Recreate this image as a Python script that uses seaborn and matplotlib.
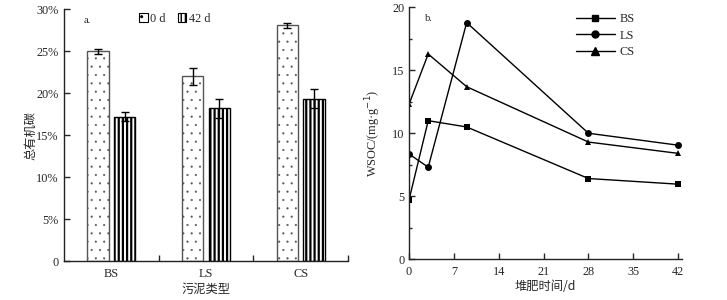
import numpy as np
import pandas as pd
import matplotlib
matplotlib.use("Agg")
import matplotlib.pyplot as plt
import seaborn as sns
from matplotlib.ticker import MultipleLocator, FixedLocator, FuncFormatter
from matplotlib.patches import Patch
from matplotlib.lines import Line2D

sns.set_style("ticks")
plt.rcParams['font.family'] = ['Liberation Serif', 'Noto Sans CJK SC']
plt.rcParams['axes.unicode_minus'] = False

# ---- data panel a ----
sludge_types = ["BS", "LS", "CS"]
time_labels = ["0 d", "42 d"]
toc_0d = [25.0, 22.0, 28.1]
toc_0d_err = [0.3, 1.0, 0.3]
toc_42d = [17.2, 18.2, 19.35]
toc_42d_err = [0.5, 1.1, 1.1]

# ---- data panel b ----
days = [0, 3, 9, 28, 42]
wsoc_bs = [4.7, 11.0, 10.5, 6.4, 5.95]
wsoc_ls = [8.35, 7.3, 18.8, 10.0, 9.05]
wsoc_cs = [12.3, 16.3, 13.7, 9.3, 8.4]

CJK = ['Noto Sans CJK SC', 'Liberation Serif']
FS = 8.8

fig = plt.figure(figsize=(7.27, 3.0), dpi=100)
axa = fig.add_axes([64/727, 1-261/300, 284/727, (261-9.3)/300])
axb = fig.add_axes([409/727, 1-259/300, 273/727, (259-7.5)/300])

# ---------------- panel a ----------------
dfa = pd.DataFrame({
    "type": sludge_types * 2,
    "time": [time_labels[0]] * 3 + [time_labels[1]] * 3,
    "toc": toc_0d + toc_42d,
})
sns.barplot(data=dfa, x="type", y="toc", hue="time", order=sludge_types,
            hue_order=time_labels, errorbar=None, width=0.56, gap=0.2,
            palette=["white", "white"], ax=axa, legend=False, linewidth=1.0)

hatches = ['..', '||||']
edgecols = ['#555555', 'black']
errs = [toc_0d_err, toc_42d_err]
vals = [toc_0d, toc_42d]
bar_conts = list(axa.containers)[:2]
for i, cont in enumerate(bar_conts):
    xs = []
    for p in cont:
        p.set_hatch(hatches[i])
        p.set_edgecolor(edgecols[i])
        p.set_linewidth(1.0)
        if hasattr(p, "set_hatch_linewidth"):
            p.set_hatch_linewidth(0.3 if i == 0 else 1.6)
        xs.append(p.get_x() + p.get_width() / 2)
    axa.errorbar(xs, vals[i], yerr=errs[i], fmt='none', ecolor='black',
                 elinewidth=1.0, capsize=3, capthick=1.0, zorder=5)

axa.set_xlim(-0.5, 2.5)
axa.set_ylim(0, 30)
axa.yaxis.set_major_locator(MultipleLocator(5))
axa.yaxis.set_major_formatter(FuncFormatter(lambda v, p: "0" if v == 0 else f"{int(v)}%"))
axa.xaxis.set_minor_locator(FixedLocator([0.5, 1.5, 2.5]))
axa.tick_params(axis='x', which='major', length=0, pad=5, labelsize=FS)
axa.tick_params(axis='x', which='minor', direction='in', length=4, width=1)
axa.tick_params(axis='y', direction='in', length=4, width=1, labelsize=FS, pad=4)
axa.set_xlabel("污泥类型", family=CJK, fontsize=FS)
axa.set_ylabel("总有机碳", family=CJK, fontsize=FS)
axa.xaxis.set_label_coords(0.5, -0.088)
axa.yaxis.set_label_coords(-0.092, 0.5)
for s in ['left', 'bottom']:
    axa.spines[s].set_linewidth(1.0)
    axa.spines[s].set_color('#222222')
sns.despine(ax=axa)
axa.text(0.07, 0.975, "a.", transform=axa.transAxes, fontsize=7.5, va='top')

hand = [Patch(facecolor='white', edgecolor='black', hatch='..', linewidth=0.8),
        Patch(facecolor='white', edgecolor='black', hatch='||||', linewidth=0.8)]
axa.legend(hand, time_labels, loc='upper center', bbox_to_anchor=(0.39, 1.03),
           ncol=2, frameon=False, fontsize=FS, handlelength=0.7, handleheight=0.7,
           handletextpad=0.2, columnspacing=1.0)

# ---------------- panel b ----------------
dfb = pd.DataFrame({
    "day": days * 3,
    "wsoc": wsoc_bs + wsoc_ls + wsoc_cs,
    "sample": ["BS"] * len(days) + ["LS"] * len(days) + ["CS"] * len(days),
})
sns.lineplot(data=dfb, x="day", y="wsoc", hue="sample", style="sample",
             hue_order=sludge_types, style_order=sludge_types,
             palette=["black"] * 3, markers=['s', 'o', '^'], dashes=False,
             linewidth=1.0, markersize=5, markeredgewidth=0, ax=axb, legend=False)
axb.set_xlim(0, 42.6)
axb.set_ylim(0, 20)
axb.xaxis.set_major_locator(MultipleLocator(7))
axb.yaxis.set_major_locator(MultipleLocator(5))
axb.yaxis.set_minor_locator(MultipleLocator(2.5))
axb.tick_params(axis='both', which='major', direction='in', length=4, width=1, labelsize=FS)
axb.tick_params(axis='y', which='minor', direction='in', length=2.5, width=1)
axb.tick_params(axis='x', pad=5)
axb.set_xlabel("堆肥时间/d", family=CJK, fontsize=FS)
axb.set_ylabel("WSOC/(mg·g$^{-1}$)", fontsize=FS)
axb.xaxis.set_label_coords(0.5, -0.085)
axb.yaxis.set_label_coords(-0.095, 0.5)
for s in ['left', 'bottom']:
    axb.spines[s].set_linewidth(1.0)
    axb.spines[s].set_color('#222222')
sns.despine(ax=axb)
axb.text(0.06, 0.975, "b.", transform=axb.transAxes, fontsize=7.5, va='top')

lh = [Line2D([], [], color='black', lw=1.0, marker=m, markersize=ms)
      for m, ms in zip(['s', 'o', '^'], [5, 5, 6])]
axb.legend(lh, sludge_types, loc='upper left', bbox_to_anchor=(0.57, 1.02),
           frameon=False, fontsize=FS, handlelength=3.2, handletextpad=0.4,
           labelspacing=0.35)

fig.savefig("out.png", dpi=100)
